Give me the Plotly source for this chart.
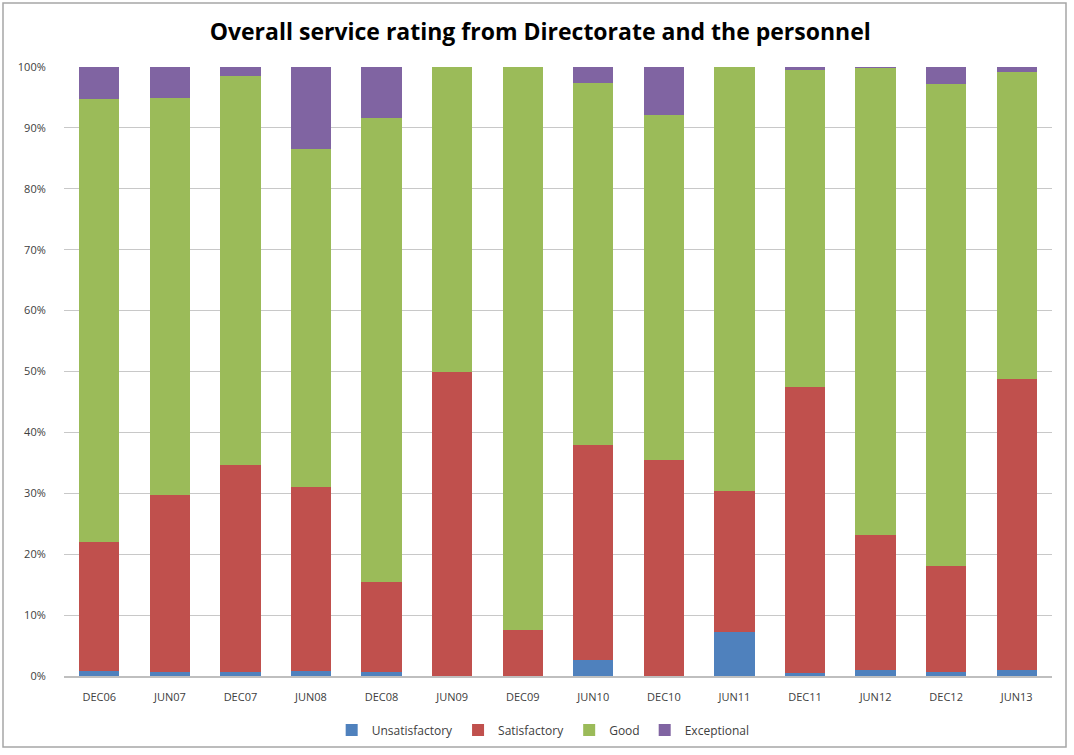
import plotly.graph_objects as go

periods = ["DEC06", "JUN07", "DEC07", "JUN08", "DEC08", "JUN09", "DEC09",
           "JUN10", "DEC10", "JUN11", "DEC11", "JUN12", "DEC12", "JUN13"]

# percentages per rating
unsatisfactory = [0.9, 0.6, 0.6, 0.9, 0.6, 0.0, 0.0, 2.7, 0.0, 7.3, 0.5, 1.0, 0.7, 1.0]
satisfactory = [21.1, 29.2, 34.0, 30.1, 14.8, 50.0, 7.5, 35.3, 35.4, 23.0, 47.0, 22.2, 17.3, 47.8]
good = [72.8, 65.1, 64.0, 55.5, 76.2, 50.0, 92.5, 59.3, 56.8, 69.7, 52.0, 76.7, 79.2, 50.3]
exceptional = [5.2, 5.1, 1.4, 13.5, 8.4, 0.0, 0.0, 2.7, 7.8, 0.0, 0.5, 0.1, 2.8, 0.9]

series = [
    ("Unsatisfactory", unsatisfactory, "#4F81BD"),
    ("Satisfactory", satisfactory, "#C0504D"),
    ("Good", good, "#9BBB59"),
    ("Exceptional", exceptional, "#8064A2"),
]

fig = go.Figure()
for name, vals, color in series:
    fig.add_trace(go.Bar(x=periods, y=vals, name=name, marker_color=color,
                         marker_line_width=0))

W, H = 1074, 755
L, R, T, B = 64, 22, 67, 78

fig.update_layout(
    barmode="stack",
    bargap=0.43,
    width=W,
    height=H,
    plot_bgcolor="white",
    paper_bgcolor="white",
    margin=dict(l=L, r=R, t=T, b=B),
    font=dict(family="Open Sans, Liberation Sans, sans-serif", size=11, color="#404040"),
    title=dict(
        text="<b>Overall service rating from Directorate and the personnel</b>",
        x=0.503, xref="container", xanchor="center", y=0.958, yanchor="middle",
        font=dict(size=23, color="black", family="Open Sans, sans-serif"),
    ),
    legend=dict(orientation="h", x=0.485, xanchor="center", y=-0.087,
                yanchor="middle", font=dict(size=12, color="#404040"),
                traceorder="normal", itemwidth=30, bgcolor="rgba(0,0,0,0)"),
    showlegend=True,
)
fig.update_yaxes(range=[0, 100], dtick=10, ticksuffix="%", showgrid=True,
                 gridcolor="#C8C8C8", gridwidth=1, zeroline=False,
                 ticks="outside", ticklen=15, tickcolor="rgba(0,0,0,0)",
                 showline=False, tickfont=dict(size=11), automargin=False)
fig.update_xaxes(showline=True, linecolor="#BFBFBF", linewidth=1.5,
                 ticks="outside", ticklen=10, tickcolor="rgba(0,0,0,0)",
                 tickfont=dict(size=11), automargin=False)

# chart area frame, in pixels converted to paper units
pw, ph = W - L - R, H - T - B
fig.add_shape(type="rect", xref="paper", yref="paper",
              x0=(3 - L) / pw, x1=(1066 - L) / pw,
              y0=(H - B - 748) / ph, y1=(H - B - 3) / ph,
              line=dict(color="#A6A6A6", width=1.5))

# drop the default page margin so the figure sits at the window's corner
fig.write_html("out.html", config={"displayModeBar": False},
               post_script="document.body.style.margin='0';")
